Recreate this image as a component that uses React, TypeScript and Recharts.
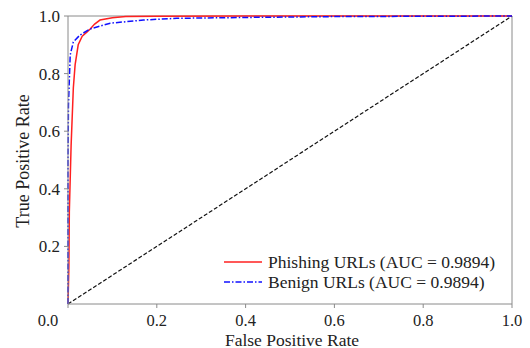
import { Legend, Line, LineChart, ReferenceLine, XAxis, YAxis } from "recharts"

const phishingFpr = [0, 0.002, 0.003, 0.007, 0.012, 0.016, 0.023, 0.032, 0.043, 0.05, 0.06, 0.072, 0.1, 0.13, 0.2, 0.4, 1]
const phishingTpr = [0, 0.13, 0.32, 0.55, 0.75, 0.83, 0.9, 0.93, 0.945, 0.955, 0.972, 0.986, 0.994, 0.998, 0.999, 1, 1]

const benignFpr = [0, 0, 0.001, 0.005, 0.012, 0.027, 0.05, 0.095, 0.17, 0.245, 0.4, 0.6, 0.8, 1]
const benignTpr = [0, 0.5, 0.69, 0.865, 0.91, 0.934, 0.955, 0.975, 0.986, 0.992, 0.995, 0.998, 0.999, 1]

const chanceFpr = [0, 1]
const chanceTpr = [0, 1]

const xTicks = [0, 0.2, 0.4, 0.6, 0.8, 1]
const yTicks = [0.2, 0.4, 0.6, 0.8, 1]

const SERIF = "'Liberation Serif', 'Times New Roman', serif"
const SPINE = "#8a8a8a"

function toPoints(fpr: number[], tpr: number[]) {
  return fpr.map((f, i) => ({ fpr: f, tpr: tpr[i] }))
}

const phishing = toPoints(phishingFpr, phishingTpr)
const benign = toPoints(benignFpr, benignTpr)
const chance = toPoints(chanceFpr, chanceTpr)

function XTick({ x, y, payload }: any) {
  // the 0.0 label sits left of the origin in the original
  const dx = payload.value === 0 ? -20 : 0
  return (
    <text x={x + dx} y={y} dy={15.5} textAnchor="middle" fontFamily={SERIF} fontSize={16.5} fill="#222">
      {payload.value.toFixed(1)}
    </text>
  )
}

function YTick({ x, y, payload }: any) {
  return (
    <text x={x} y={y} dy="0.35em" textAnchor="end" fontFamily={SERIF} fontSize={17} fill="#222">
      {payload.value.toFixed(1)}
    </text>
  )
}

function YTitle() {
  return (
    <text x={29} y={161} transform="rotate(-90 29 161)" textAnchor="middle"
      fontFamily={SERIF} fontSize={18} fill="#222">
      True Positive Rate
    </text>
  )
}

function XTitle() {
  return (
    <text x={292} y={345.5} textAnchor="middle" fontFamily={SERIF} fontSize={17.5} fill="#222">
      False Positive Rate
    </text>
  )
}

const LEGEND = [
  { label: "Phishing URLs (AUC = 0.9894)", color: "#ff2020", dash: undefined },
  { label: "Benign URLs (AUC = 0.9894)", color: "#1010ff", dash: "6 2 1.5 2" },
]

function LegendBox() {
  return (
    <div style={{ fontFamily: SERIF, fontSize: 17.5, color: "#222", lineHeight: "20px" }}>
      {LEGEND.map(item => (
        <div key={item.label} style={{ display: "flex", alignItems: "center" }}>
          <svg width={46} height={20}>
            <line x1={2} y1={10} x2={40} y2={10} stroke={item.color} strokeWidth={1.5} strokeDasharray={item.dash} />
          </svg>
          <span>{item.label}</span>
        </div>
      ))}
    </div>
  )
}

export default function App() {
  return (
    <div style={{ width: 530, height: 348, position: "relative", background: "#fff" }}>
      <style>{"body { margin: 0; }"}</style>
      <LineChart width={530} height={348} margin={{ top: 16, right: 18, bottom: 14, left: 20 }}>
        <XAxis
          type="number"
          dataKey="fpr"
          domain={[0, 1]}
          ticks={xTicks}
          tick={<XTick />}
          tickSize={4}
          height={30}
          stroke={SPINE}
          allowDuplicatedCategory={false}
          label={<XTitle />}
        />
        <YAxis
          type="number"
          dataKey="tpr"
          domain={[0, 1]}
          ticks={yTicks}
          tick={<YTick />}
          tickSize={4}
          tickMargin={4}
          width={48}
          stroke={SPINE}
          label={<YTitle />}
        />
        <ReferenceLine x={1} stroke={SPINE} />
        <ReferenceLine y={1} stroke={SPINE} />
        <Line data={chance} dataKey="tpr" stroke="#111" strokeWidth={1.2} strokeDasharray="4 2" dot={false} isAnimationActive={false} legendType="none" />
        <Line data={phishing} dataKey="tpr" name="Phishing URLs (AUC = 0.9894)" stroke="#ff2020" strokeWidth={1.5} dot={false} isAnimationActive={false} />
        <Line data={benign} dataKey="tpr" name="Benign URLs (AUC = 0.9894)" stroke="#1010ff" strokeWidth={1.5} strokeDasharray="6 2 1.5 2" dot={false} isAnimationActive={false} />
        <Legend
          layout="horizontal"
          align="center"
          verticalAlign="middle"
          content={<LegendBox />}
          wrapperStyle={{ left: 222, top: 252, width: 300, height: 42 }}
        />
      </LineChart>
    </div>
  )
}
